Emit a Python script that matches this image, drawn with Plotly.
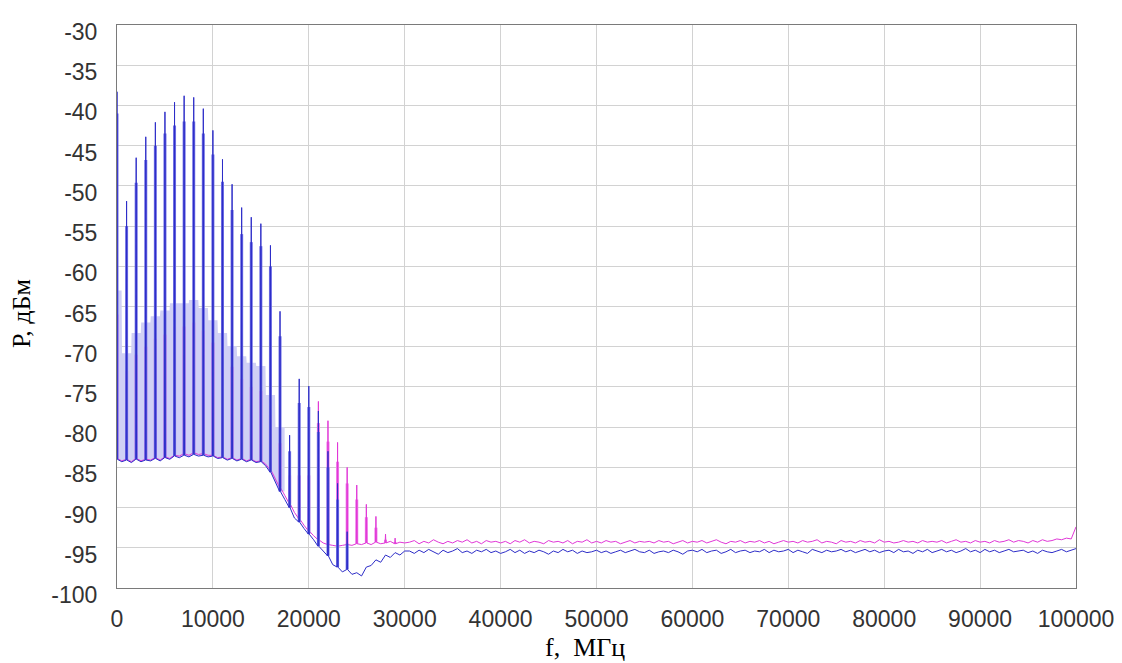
import plotly.graph_objects as go

# ---------------- data ----------------
# noise floor sampled every 500 MHz from 0 to 100000 MHz
floor_step = 500
blue_floor = [
    -84.0, -84.3, -84.1, -84.4, -84.0, -84.3, -84.1, -84.2, -83.9, -84.2,
    -83.8, -84.0, -83.6, -83.8, -83.5, -83.7, -83.4, -83.6, -83.5, -83.7,
    -83.6, -83.9, -83.8, -84.1, -83.9, -84.2, -84.0, -84.3, -84.1, -84.4,
    -84.3, -84.8, -85.6, -86.8, -88.0, -89.0, -90.0, -91.3, -91.8, -92.6,
    -93.3, -94.0, -94.8, -95.4, -96.0, -97.1, -97.4, -98.0, -97.7, -98.3,
    -98.1, -98.5, -97.4, -97.2, -96.5, -96.8, -95.9, -96.2, -95.6, -95.9,
    -95.4,
    -95.4, -95.7, -95.3, -95.6, -95.2, -95.5, -95.8, -95.3, -95.6, -95.4,
    -95.1, -95.6, -95.4, -95.7, -95.3, -95.5, -95.2, -95.6, -95.4, -95.7,
    -95.5, -95.2, -95.6, -95.3, -95.7, -95.4, -95.6, -95.3, -95.5, -95.8,
    -95.4, -95.6, -95.2, -95.5, -95.3, -95.7, -95.4, -95.6, -95.5, -95.3,
    -95.6, -95.4, -95.7, -95.5, -95.3, -95.6, -95.4, -95.2, -95.5, -95.6,
    -95.3, -95.7, -95.5, -95.4, -95.6, -95.3, -95.5, -95.8, -95.4, -95.3,
    -95.5, -95.2, -95.6, -95.4, -95.3, -95.7, -95.5, -95.2, -95.6, -95.4,
    -95.3, -95.6, -95.4, -95.5, -95.2, -95.6, -95.3, -95.5, -95.4, -95.2,
    -95.6, -95.3, -95.5, -95.7, -95.2, -95.4, -95.6, -95.3, -95.5, -95.4,
    -95.2, -95.5, -95.3, -95.6, -95.4, -95.2, -95.5, -95.3, -95.6, -95.4,
    -95.3, -95.6, -95.2, -95.5, -95.4, -95.7, -95.3, -95.5, -95.2, -95.6,
    -95.4, -95.2, -95.5, -95.3, -95.6, -95.4, -95.1, -95.5, -95.3, -95.6,
    -95.2, -95.5, -95.3, -95.6, -95.4, -95.2, -95.5, -95.4, -95.3, -95.6,
    -95.4, -95.7, -95.3, -95.5, -95.6, -95.4, -95.2, -95.5, -95.3, -95.1,
]
magenta_floor = [
    -83.9, -84.2, -84.0, -84.3, -83.9, -84.2, -84.0, -84.1, -83.8, -84.1,
    -83.7, -83.9, -83.5, -83.6, -83.3, -83.5, -83.2, -83.4, -83.3, -83.5,
    -83.5, -83.8, -83.7, -84.0, -83.8, -84.1, -83.9, -84.2, -84.0, -84.3,
    -84.2, -84.6, -85.3, -86.4, -87.5, -88.5, -89.5, -90.6, -91.4, -92.2,
    -92.9, -93.5, -94.0, -94.4, -94.6, -94.7, -94.8, -94.7, -94.6, -94.7,
    -94.5, -94.6, -94.4, -94.6, -94.3, -94.5, -94.4, -94.2, -94.5, -94.3,
    -94.4,
    -94.3, -94.1, -94.5, -94.2, -94.4, -94.0, -94.3, -94.5, -94.2, -94.4,
    -94.1, -94.3, -94.0, -94.4, -94.2, -94.5, -94.1, -94.3, -94.2, -94.4,
    -94.2, -94.5, -94.1, -94.3, -94.0, -94.4, -94.2, -94.3, -94.5, -94.1,
    -94.3, -94.2, -94.4, -94.1, -94.5, -94.2, -94.3, -94.0, -94.4, -94.2,
    -94.4, -94.1, -94.3, -94.2, -94.5, -94.3, -94.1, -94.4, -94.2, -94.3,
    -94.2, -94.4, -94.1, -94.3, -94.2, -94.5, -94.3, -94.1, -94.4, -94.2,
    -94.3, -94.1, -94.4, -94.2, -94.0, -94.3, -94.5, -94.2, -94.3, -94.1,
    -94.4, -94.2, -94.3, -94.1, -94.4, -94.2, -94.5, -94.3, -94.1, -94.3,
    -94.2, -94.4, -94.1, -94.3, -94.2, -94.0, -94.4, -94.2, -94.3, -94.5,
    -94.1, -94.3, -94.2, -94.4, -94.1, -94.3, -94.2, -94.4, -94.0, -94.3,
    -94.2, -94.4, -94.3, -94.1, -94.3, -94.2, -94.4, -94.1, -94.3, -94.2,
    -94.3, -94.1, -94.4, -94.2, -94.0, -94.3, -94.2, -94.4, -94.1, -94.3,
    -94.2, -94.4, -94.1, -94.3, -94.2, -94.0, -94.3, -94.1, -94.2, -94.4,
    -94.1, -94.3, -94.0, -94.2, -94.1, -93.9, -94.0, -93.8, -93.9, -92.4,
]

# harmonics every 1000 MHz (index n -> n*1000 MHz)
harm_step = 1000
blue_peak = [-38.3, -51.9, -46.5, -43.9, -42.1, -40.8, -39.6, -38.8, -39.0, -40.4,
             -43.1, -46.7, -49.8, -52.7, -53.9, -54.7, -57.4, -65.6, -81.0, -74.0,
             -74.9, -78.0, -83.0, -87.0, -93.0]
blue_sub = [-41.0, -55.0, -49.6, -46.8, -45.0, -43.5, -42.5, -42.0, -42.0, -43.5,
            -46.1, -49.5, -53.0, -56.0, -57.0, -57.5, -60.0, -68.7, -83.0, -77.0,
            -77.5, -80.6, -85.0, -89.0, -94.5]
blue_base = [-63.0, -70.8, -68.3, -67.0, -66.2, -65.5, -64.6, -64.6, -64.2, -65.2,
             -66.7, -68.3, -69.9, -71.2, -72.0, -72.4, -76.0, -80.0]
magenta_peak = [-63.0, -70.8, -68.3, -67.0, -66.2, -65.5, -64.6, -64.6, -64.2, -65.2,
                -66.7, -68.3, -69.9, -71.2, -72.0, -72.4, -76.0, -80.0, -84.0, -84.0,
                -84.0, -76.8, -79.2, -81.9, -85.0, -87.2, -89.6, -91.1, -93.3, -93.8]
magenta_sub = [-66.0, -73.0, -71.0, -70.0, -69.0, -68.5, -67.5, -67.5, -67.0, -68.0,
               -69.5, -71.0, -72.5, -74.0, -75.0, -75.5, -78.5, -82.0, -86.0, -86.0,
               -86.0, -79.5, -81.8, -84.3, -87.0, -89.0, -91.2, -92.5, -94.0, -94.3]

x_ticks = [0, 10000, 20000, 30000, 40000, 50000, 60000, 70000, 80000, 90000, 100000]
y_ticks = [-30, -35, -40, -45, -50, -55, -60, -65, -70, -75, -80, -85, -90, -95, -100]


# ---------------- build spectrum paths ----------------
def build_line(floor, peaks):
    xs, ys = [], []
    for i, fl in enumerate(floor):
        f = i * floor_step
        n = f // harm_step
        if f % harm_step == 0 and n < len(peaks):
            for dx, v in [(-40, fl), (0, peaks[n]), (40, fl)]:
                xs.append(f + dx)
                ys.append(v)
        else:
            xs.append(f)
            ys.append(fl)
    return xs, ys


def build_bars(floor, subs):
    xs, ys = [], []
    for n, sb in enumerate(subs):
        fl = floor[n * harm_step // floor_step]
        xs += [n * harm_step, n * harm_step, None]
        ys += [fl, sb, None]
    return xs, ys


bx, by = build_line(blue_floor, blue_peak)
mx, my = build_line(magenta_floor, magenta_peak)
bbx, bby = build_bars(blue_floor, blue_sub)
mbx, mby = build_bars(magenta_floor, magenta_sub)

# light envelope under the low-frequency harmonics
lx, ly = [], []
for n, b in enumerate(blue_base):
    lx += [n * harm_step - 480, n * harm_step + 480]
    ly += [b, b]
last = (len(blue_base) - 1) * harm_step + 480
fx = [i * floor_step for i in range(len(blue_floor)) if i * floor_step <= last]
fy = [blue_floor[i] for i in range(len(fx))]
poly_x = lx + [last] + fx[::-1] + [-480]
poly_y = ly + [fy[-1]] + fy[::-1] + [fy[0]]

fig = go.Figure()
fig.add_trace(go.Scatter(x=poly_x, y=poly_y, mode="lines", fill="toself",
                         fillcolor="rgb(208,208,245)",
                         line=dict(width=0), hoverinfo="skip", showlegend=False))
fig.add_trace(go.Scatter(x=mbx, y=mby, mode="lines",
                         line=dict(color="rgb(238,120,232)", width=3),
                         hoverinfo="skip", showlegend=False))
fig.add_trace(go.Scatter(x=mx, y=my, mode="lines",
                         line=dict(color="rgb(225,55,215)", width=1),
                         showlegend=False))
fig.add_trace(go.Scatter(x=bbx, y=bby, mode="lines",
                         line=dict(color="rgb(110,110,228)", width=3),
                         hoverinfo="skip", showlegend=False))
fig.add_trace(go.Scatter(x=bx, y=by, mode="lines",
                         line=dict(color="rgb(45,45,200)", width=1),
                         showlegend=False))

axis_font = dict(family="Liberation Sans, Arial, sans-serif", size=23, color="#333333")
title_font = dict(family="Liberation Serif, Times New Roman, serif", size=26, color="black")
fig.update_layout(
    width=1122, height=663,
    margin=dict(l=109, r=54, t=11, b=83),
    paper_bgcolor="white", plot_bgcolor="white",
    showlegend=False,
    xaxis=dict(range=[0, 100000], tickvals=x_ticks, ticktext=[str(v) for v in x_ticks],
               showgrid=True, gridcolor="#d2d2d2", gridwidth=1,
               showline=True, linecolor="#7a7a7a", linewidth=1, mirror=True,
               zeroline=False, ticks="", tickfont=axis_font, ticklabelstandoff=10),
    yaxis=dict(range=[-100, -30], tickvals=y_ticks, ticktext=[str(v) for v in y_ticks],
               showgrid=True, gridcolor="#d2d2d2", gridwidth=1,
               showline=True, linecolor="#7a7a7a", linewidth=1, mirror=True,
               zeroline=False, ticks="", tickfont=axis_font, ticklabelstandoff=14,
               ticklabelshift=7),
    annotations=[
        dict(text="f,  МГц", xref="paper", yref="paper", x=0.488, y=-0.1054,
             xanchor="center", yanchor="middle", showarrow=False, font=title_font),
        dict(text="Р, дБм", xref="paper", yref="paper", x=-0.099, y=0.487,
             xanchor="center", yanchor="middle", showarrow=False, textangle=-90,
             font=title_font),
    ],
)

fig.write_html("out.html")
